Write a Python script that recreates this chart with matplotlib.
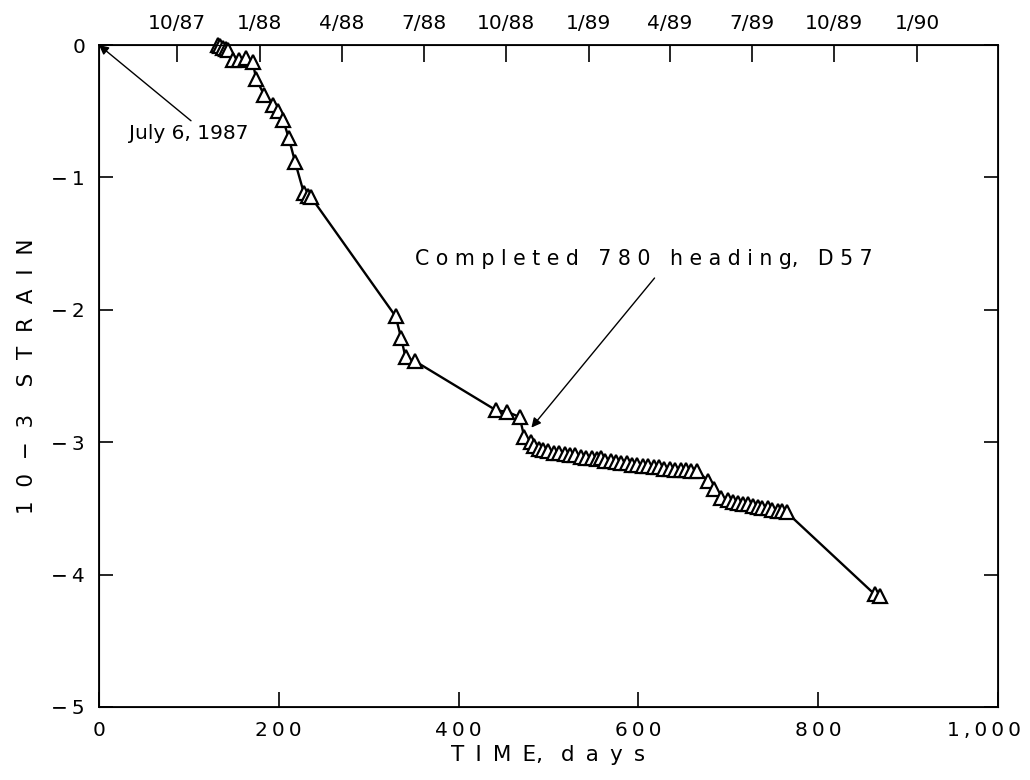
import matplotlib
matplotlib.use("Agg")
import matplotlib.pyplot as plt
from matplotlib.transforms import ScaledTranslation

# ---- data ----
days = [132, 135, 138, 141, 144, 149, 156, 163, 171, 175, 184, 194, 199, 205,
        211, 218, 228, 232, 236, 330, 336, 341, 352, 442, 454, 468, 473, 481,
        484, 489, 494, 500, 506, 512, 518, 524, 530, 536, 542, 548, 554, 558,
        563, 569, 575, 581, 587, 593, 599, 605, 611, 617, 623, 629, 635, 641,
        647, 653, 659, 665, 678, 684, 692,
        700, 705, 711, 716, 722, 727, 733, 738, 744, 749, 755, 760, 765,
        863, 869]
strain = [0.00, -0.01, -0.02, -0.03, -0.04, -0.11, -0.11, -0.10, -0.13, -0.26,
          -0.38, -0.45, -0.50, -0.57, -0.70, -0.88, -1.12, -1.14, -1.15, -2.05,
          -2.21, -2.36, -2.39, -2.76, -2.77, -2.81, -2.96, -3.00,
          -3.03, -3.05, -3.06, -3.07, -3.08, -3.08, -3.09, -3.10, -3.10, -3.11,
          -3.12, -3.12, -3.13, -3.12, -3.14, -3.14, -3.15, -3.16, -3.16, -3.17,
          -3.17, -3.18, -3.18, -3.19, -3.19, -3.20, -3.20, -3.21, -3.21, -3.21,
          -3.22, -3.22, -3.29, -3.35, -3.42,
          -3.44, -3.45, -3.46, -3.47, -3.47, -3.48, -3.49, -3.50, -3.50, -3.51,
          -3.52, -3.52, -3.53,
          -4.15, -4.16]

x_ticks = [0, 200, 400, 600, 800, 1000]
x_ticklabels = ["0", "200", "400", "600", "800", "1,000"]
y_ticks = [0, -1, -2, -3, -4, -5]
y_ticklabels = ["0", "\u22121", "\u22122", "\u22123", "\u22124", "\u22125"]
date_ticks = [87, 179, 270, 361, 453, 545, 635, 726, 818, 910]
date_labels = ["10/87", "1/88", "4/88", "7/88", "10/88", "1/89", "4/89",
               "7/89", "10/89", "1/90"]

THIN = "\u2009"


def spaced(s, sep=THIN):
    return sep.join(s)


def wide(s, gap=" ", wordgap="   "):
    # letter-spaced text; a comma stays attached to its letter
    words = []
    for w in s.split(" "):
        out = ""
        for i, ch in enumerate(w):
            if i > 0 and ch != ",":
                out += gap
            out += ch
        words.append(out)
    return wordgap.join(words)


plt.rcParams["font.family"] = ["DejaVu Sans"]

fig = plt.figure(figsize=(10.30, 7.80), dpi=100)
ax = fig.add_axes([0.0961, 0.0936, 0.8728, 0.8487])

ax.plot(days, strain, color="black", lw=1.7, marker="^", ms=10,
        mfc="white", mec="black", mew=1.6, zorder=3, clip_on=False)

ax.set_xlim(0, 1000)
ax.set_ylim(-5, 0)

ax.set_xticks(x_ticks)
ax.set_xticklabels([spaced(t) for t in x_ticklabels])
ax.set_yticks(y_ticks)
ax.set_yticklabels([spaced(t) for t in y_ticklabels])

ax.tick_params(axis="x", direction="in", length=11, width=1.2, pad=10,
               labelsize=14.5, top=False)
ax.tick_params(axis="y", direction="in", length=10, width=1.2, pad=10,
               labelsize=14.5, right=True)

last = ax.get_xticklabels()[-1]
last.set_transform(last.get_transform() +
                   ScaledTranslation(-10 / 72, 0, fig.dpi_scale_trans))

for sp in ax.spines.values():
    sp.set_linewidth(1.3)

ax2 = ax.twiny()
ax2.set_xlim(0, 1000)
ax2.set_xticks(date_ticks)
ax2.set_xticklabels(date_labels)
ax2.tick_params(axis="x", direction="in", length=12, width=1.2, pad=9,
                labelsize=14.5)

ax.set_xlabel(wide("TIME, days", gap=" " + THIN, wordgap="  " + THIN),
              fontsize=15.5, labelpad=4)
ax.set_ylabel(wide("10\u22123 STRAIN", gap="  ", wordgap="    "),
              fontsize=15.5, labelpad=10)

ax.annotate("July 6, 1987", xy=(0, 0), xytext=(33, -0.665),
            fontsize=14.5, ha="left", va="center",
            arrowprops=dict(arrowstyle="-|>", color="black", lw=1.0,
                            mutation_scale=14, shrinkA=0, shrinkB=0,
                            relpos=(0.55, 1.0)))

ax.annotate("", xy=(481, -2.89), xytext=(618, -1.76),
            arrowprops=dict(arrowstyle="-|>", color="black", lw=1.0,
                            mutation_scale=14, shrinkA=0, shrinkB=0))
ax.text(351, -1.62, wide("Completed 780 heading, D57"), fontsize=14.8,
        ha="left", va="center")

fig.savefig("out.png", dpi=100)
